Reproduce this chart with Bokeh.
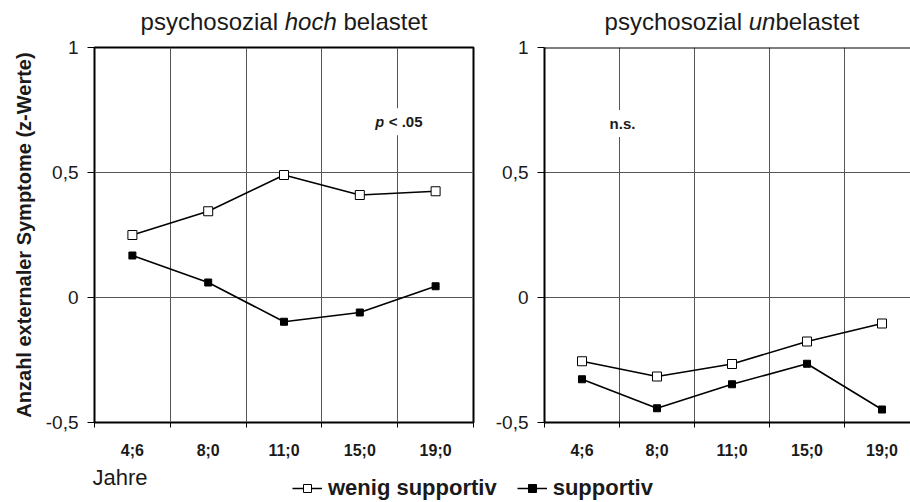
import math
from bokeh.plotting import figure
from bokeh.layouts import row, column
from bokeh.models import Range1d, FixedTicker, Label, Span, Legend, LegendItem
from bokeh.embed import file_html
from bokeh.resources import INLINE

# ---------------- data ----------------
ages = ["4;6", "8;0", "11;0", "15;0", "19;0"]
y_ticks = [-0.5, 0, 0.5, 1]
y_tick_labels = ["-0,5", "0", "0,5", "1"]
series_names = ["wenig supportiv", "supportiv"]

hoch_wenig = [0.250, 0.345, 0.490, 0.410, 0.425]
hoch_supp = [0.168, 0.060, -0.097, -0.060, 0.045]
un_wenig = [-0.255, -0.316, -0.266, -0.176, -0.104]
un_supp = [-0.327, -0.443, -0.347, -0.265, -0.448]

y_label = "Anzahl externaler Symptome (z-Werte)"
x_label = "Jahre"

FONT = "Liberation Sans"
TXT = "#1a1a1a"
GRID = "#555555"

xc = [i + 0.5 for i in range(len(ages))]
bounds = list(range(len(ages) + 1))


def strip(w, h):
    s = figure(width=w, height=h, x_range=Range1d(0, w), y_range=Range1d(0, h),
               toolbar_location=None, output_backend="svg",
               x_axis_location=None, y_axis_location=None, min_border=0,
               background_fill_color="white", border_fill_color="white")
    s.grid.visible = False
    s.outline_line_color = None
    return s


def make_panel(frame_w, x_end, min_left, min_right, wenig, supp, with_ylabel):
    p = figure(frame_width=frame_w, frame_height=375,
               x_range=Range1d(0, x_end), y_range=Range1d(-0.5, 1),
               toolbar_location=None, output_backend="svg",
               min_border_left=min_left, min_border_right=min_right,
               min_border_top=10, min_border_bottom=40,
               background_fill_color="white", border_fill_color="white")
    xa = p.xaxis[0]
    xa.ticker = FixedTicker(ticks=xc, minor_ticks=bounds)
    xa.major_label_overrides = {c: a for c, a in zip(xc, ages)}
    xa.major_tick_out = 0
    xa.major_tick_in = 0
    xa.minor_tick_out = 5
    xa.minor_tick_in = 0
    xa.minor_tick_line_color = "black"
    xa.major_label_text_font = FONT
    xa.major_label_text_font_size = "16px"
    xa.major_label_text_font_style = "bold"
    xa.major_label_text_color = TXT
    xa.major_label_standoff = 14

    ya = p.yaxis[0]
    ya.ticker = FixedTicker(ticks=y_ticks)
    ya.major_label_overrides = {t: l for t, l in zip(y_ticks, y_tick_labels)}
    ya.major_tick_out = 7
    ya.major_tick_in = 0
    ya.major_tick_line_color = "black"
    ya.minor_tick_line_color = None
    ya.major_label_text_font = FONT
    ya.major_label_text_font_size = "19px"
    ya.major_label_text_color = TXT
    ya.major_label_standoff = 9
    if with_ylabel:
        ya.axis_label = y_label
        ya.axis_label_text_font = FONT
        ya.axis_label_text_font_size = "20px"
        ya.axis_label_text_font_style = "bold"
        ya.axis_label_text_color = TXT
        ya.axis_label_standoff = 8

    p.xgrid.ticker = FixedTicker(ticks=bounds[1:-1])
    p.ygrid.ticker = FixedTicker(ticks=[0, 0.5])
    p.grid.grid_line_color = GRID
    p.grid.grid_line_width = 1

    p.line(xc, supp, line_color="black", line_width=1.6)
    p.scatter(xc, supp, marker="square", size=7, fill_color="black", line_color="black")
    p.line(xc, wenig, line_color="black", line_width=1.6)
    p.scatter(xc, wenig, marker="square", size=9, fill_color="white",
              line_color="black", line_width=1)
    return p


# ---------------- title strip ----------------
pt = strip(910, 37)
for text, style, xpos, align in [("psychosozial", "normal", 277.5, "right"),
                                 ("hoch", "italic", 284.2, "left"),
                                 ("belastet", "normal", 342.9, "left"),
                                 ("psychosozial", "normal", 741.5, "right"),
                                 ("un", "italic", 748.2, "left"),
                                 ("belastet", "normal", 774.9, "left")]:
    pt.add_layout(Label(x=xpos, y=16, text=text, text_font=FONT, text_font_size="24px",
                        text_font_style=style, text_align=align,
                        text_baseline="alphabetic", text_color=TXT))

# ---------------- left panel ----------------
p1 = make_panel(379, 5, 94, 10, hoch_wenig, hoch_supp, True)
p1.outline_line_color = "black"
p1.outline_line_width = 2
p1.axis.axis_line_color = None
p1.add_layout(Label(x=4, y=0.703, x_offset=-27.5, text="p", text_font=FONT,
                    text_font_size="15px", text_font_style="bold italic",
                    text_align="left", text_baseline="middle", text_color=TXT,
                    background_fill_color="white", padding=5))
p1.add_layout(Label(x=4, y=0.703, x_offset=-14, text="< .05", text_font=FONT,
                    text_font_size="15px", text_font_style="bold",
                    text_align="left", text_baseline="middle", text_color=TXT,
                    background_fill_color="white", padding=5))

# ---------------- right panel (cut off at the right edge) ----------------
p2 = make_panel(366, 366 / 75, 61, 0, un_wenig, un_supp, False)
p2.outline_line_color = None
p2.axis.axis_line_color = "black"
p2.axis.axis_line_width = 2
p2.add_layout(Span(location=1, dimension="width", line_color="black", line_width=2))
p2.add_layout(Label(x=1, y=0.696, x_offset=3, text="n.s.", text_font=FONT,
                    text_font_size="15px", text_font_style="bold",
                    text_align="center", text_baseline="middle", text_color=TXT,
                    background_fill_color="white", padding=5))

# ---------------- bottom strip: "Jahre" and legend ----------------
p3 = strip(910, 40)
p3.add_layout(Label(x=92, y=25, text=x_label, text_font=FONT, text_font_size="22px",
                    text_baseline="alphabetic", text_color=TXT))
nan = [math.nan]
l1 = p3.line(x=nan, y=nan, line_color="black", line_width=1.5)
s1 = p3.scatter(x=nan, y=nan, marker="square", size=9, fill_color="white", line_color="black")
l2 = p3.line(x=nan, y=nan, line_color="black", line_width=1.5)
s2 = p3.scatter(x=nan, y=nan, marker="square", size=7, fill_color="black", line_color="black")
legend = Legend(items=[LegendItem(label=series_names[0], renderers=[l1, s1]),
                       LegendItem(label=series_names[1], renderers=[l2, s2])],
                location=(292, 1), orientation="horizontal",
                glyph_width=30, glyph_height=20, label_standoff=6, spacing=20,
                padding=0, margin=0, border_line_color=None,
                background_fill_alpha=0,
                label_text_font=FONT, label_text_font_size="22px",
                label_text_font_style="bold", label_text_color=TXT)
p3.add_layout(legend)

layout = column(pt, row(p1, p2, spacing=0), p3, spacing=0)
open("out.html", "w").write(file_html(layout, INLINE))
